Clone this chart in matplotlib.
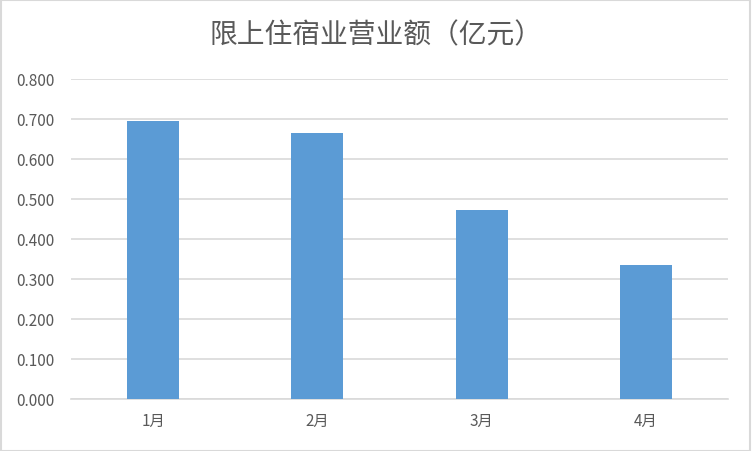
import matplotlib.pyplot as plt
from matplotlib.patches import Rectangle

plt.rcParams['font.family'] = ['Noto Sans CJK SC', 'DejaVu Sans']

# data
months = ['1月', '2月', '3月', '4月']
revenue = [0.695, 0.665, 0.4725, 0.335]
yticks = [0.0, 0.1, 0.2, 0.3, 0.4, 0.5, 0.6, 0.7, 0.8]
title = '限上住宿业营业额（亿元）'

W, H = 752, 452
fig = plt.figure(figsize=(W / 100, H / 100), dpi=100)
ax = fig.add_axes([71 / W, 52 / H, 657 / W, 320 / H])

x = range(len(months))
ax.bar(x, revenue, width=0.317, color='#5B9BD5', zorder=3)

ax.set_xlim(-0.5, len(months) - 0.5)
ax.set_ylim(0, 0.8)
ax.set_yticks(yticks)
ax.set_yticklabels(['%.3f' % v for v in yticks])
ax.set_xticks(list(x))
ax.set_xticklabels(months)
ax.yaxis.grid(True, color='#D9D9D9', linewidth=1.2, zorder=0)
for s in ['top', 'right', 'left']:
    ax.spines[s].set_visible(False)
ax.spines['bottom'].set_color('#D9D9D9')
ax.spines['bottom'].set_linewidth(1.2)
ax.tick_params(axis='both', length=0, labelsize=11, labelcolor='#595959')
ax.tick_params(axis='y', pad=12)
ax.tick_params(axis='x', pad=9)

fig.text(0.5, 1 - 35 / H, title, ha='center', va='center',
         fontsize=20, color='#595959')

# light border around the whole chart
fig.patches.append(Rectangle((0.001, 0.001), 0.997, 0.997, transform=fig.transFigure,
                             fill=False, edgecolor='#D9D9D9', linewidth=1.5))

fig.savefig('out.png', dpi=100)
